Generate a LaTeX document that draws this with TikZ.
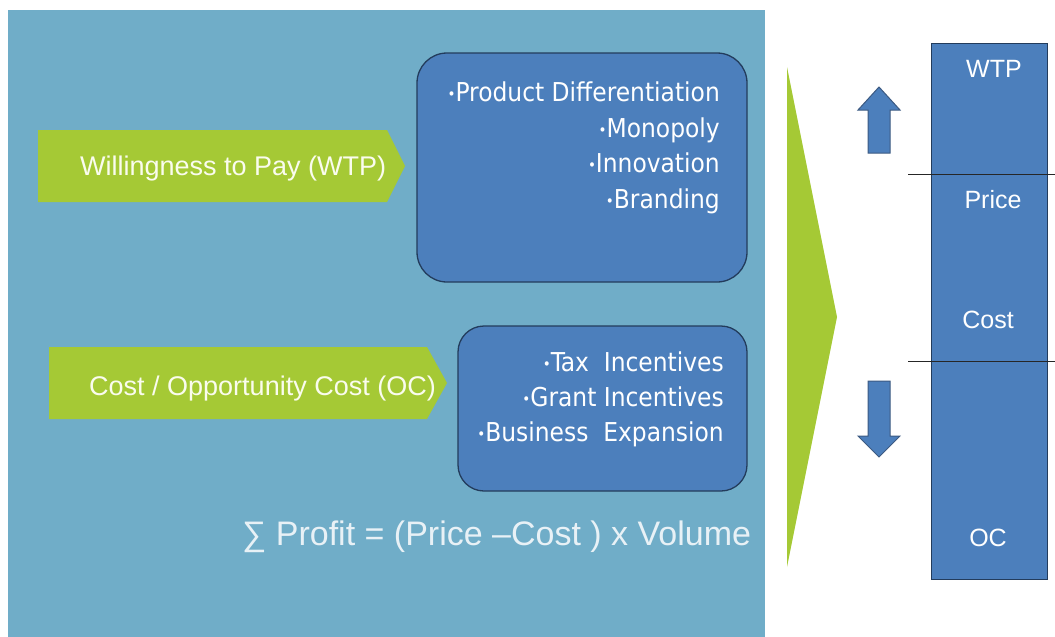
\documentclass[tikz,border=0pt]{standalone}
\usepackage{fontspec}
\setmainfont{Liberation Sans}
\newfontfamily\tah{DejaVu Sans Condensed}
\definecolor{bgblue}{RGB}{112,173,200}
\definecolor{lime}{RGB}{165,201,53}
\definecolor{boxblue}{RGB}{76,127,188}
\definecolor{boxedge}{RGB}{35,60,92}
\definecolor{arrowedge}{RGB}{60,90,130}
\definecolor{cream}{RGB}{250,252,238}
\definecolor{pale}{RGB}{232,241,246}
\newcommand{\blt}{\raisebox{1.6pt}{\fontsize{15}{15}\selectfont •}}
\begin{document}
\begin{tikzpicture}[x=1pt,y=-1pt,
  greenlbl/.style={text=cream,font=\fontsize{27}{30}\selectfont,inner sep=0pt,anchor=base west},
  item/.style={text=white,font=\tah\fontsize{26}{30}\selectfont,inner sep=0pt,anchor=base east},
  collbl/.style={text=white,font=\fontsize{25}{28}\selectfont,inner sep=0pt,anchor=base},
  rbox/.style={fill=boxblue,draw=boxedge,line width=1.3pt,rounded corners=30pt},
  barrow/.style={fill=boxblue,draw=arrowedge,line width=1pt,line join=miter}]
\useasboundingbox (0,0) rectangle (1055,637);
% background panel
\fill[bgblue] (8,10) rectangle (765,637);
% green label arrows
\fill[lime] (38,130) -- (387,130) -- (405,166) -- (387,202) -- (38,202) -- cycle;
\fill[lime] (49,347) -- (427,347) -- (447,383) -- (427,419) -- (49,419) -- cycle;
\node[greenlbl] (wtp) at (80,175) {Willingness to Pay (WTP)};
\node[greenlbl] (oc) at (89,395) {Cost / Opportunity Cost (OC)};
% rounded boxes
\draw[rbox] (417,53) rectangle (747,282);
\draw[rbox,rounded corners=26pt] (458,326) rectangle (747,491);
\node[item] (i1) at (720,101) {\blt Product Differentiation};
\node[item] (i2) at (720,137) {\blt Monopoly};
\node[item] (i3) at (720,172) {\blt Innovation};
\node[item] (i4) at (720,208) {\blt Branding};
\node[item] (j1) at (724,371) {\blt Tax\ \ Incentives};
\node[item] (j2) at (724,406) {\blt Grant Incentives};
\node[item] (j3) at (724,441) {\blt Business\ \ Expansion};
% formula
\node[text=pale,font=\fontsize{34}{38}\selectfont,inner sep=0pt,anchor=base west] (profit) at (242,545) {∑ Profit = (Price –Cost ) x Volume};
% big chevron
\fill[lime] (787,67) -- (837,317) -- (787,567) -- cycle;
% up / down arrows
\draw[barrow] (868,153) -- (868,110) -- (858,110) -- (879,87) -- (900,110) -- (890,110) -- (890,153) -- cycle;
\draw[barrow] (868,381) -- (868,436) -- (858,436) -- (879,457) -- (900,436) -- (890,436) -- (890,381) -- cycle;
% column
\draw[fill=boxblue,draw=boxedge,line width=1pt] (931,43) rectangle (1047,579);
\draw[black!85,line width=1pt] (908,174) -- (1055,174);
\draw[black!85,line width=1pt] (908,361) -- (1055,361);
\node[collbl] (cw) at (994,77) {WTP};
\node[collbl] (cp) at (993,208) {Price};
\node[collbl] (cc) at (988,328) {Cost};
\node[collbl] (co) at (988,546) {OC};
\end{tikzpicture}
\end{document}
